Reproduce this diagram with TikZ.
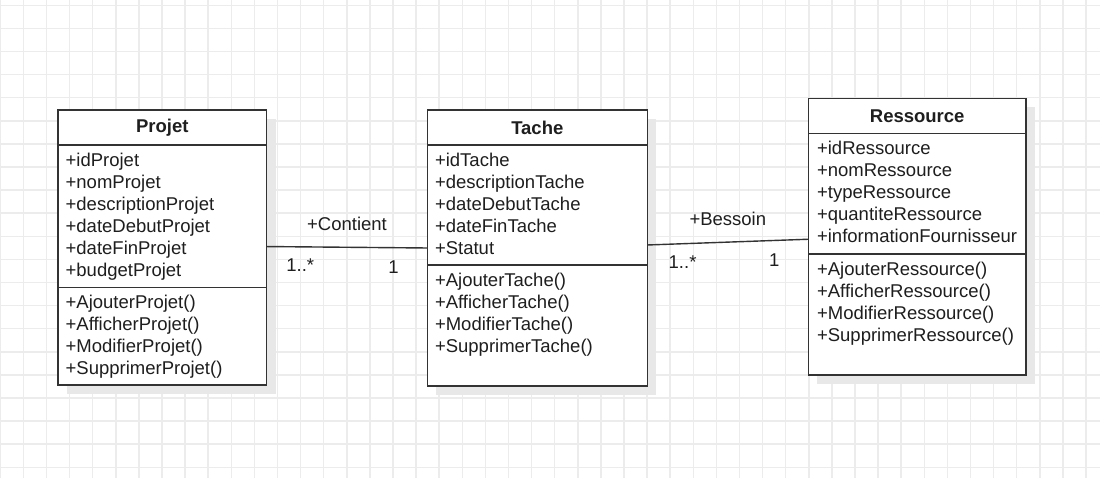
\documentclass[tikz,border=0pt]{standalone}
\usepackage{fontspec}
\setmainfont{Liberation Sans}
\usetikzlibrary{positioning,shadows}
\definecolor{gridgray}{RGB}{236,236,236}
\definecolor{shadowgray}{RGB}{232,232,232}
\definecolor{linegray}{RGB}{51,51,51}
\definecolor{textgray}{RGB}{30,30,30}
\newcommand{\umlfont}{\fontsize{18.5}{22}\selectfont}

\begin{document}
\begin{tikzpicture}[x=1pt,y=1pt,
    classbox/.style={draw=linegray,line width=1.4pt,fill=white,outer sep=0pt,inner sep=0pt,
      drop shadow={shadow xshift=9pt,shadow yshift=-9pt,fill=shadowgray,opacity=1}},
    classhead/.style={classbox,minimum height=35pt,font=\umlfont\bfseries,text=textgray},
    members/.style={inner sep=0pt,align=left,font=\umlfont,text=textgray},
    assoc/.style={draw=linegray,line width=1.4pt},
    mult/.style={inner sep=0pt,font=\umlfont,text=textgray}]

  \useasboundingbox (0,0) rectangle (1100,478);
  \fill[white] (0,0) rectangle (1100,478);
  \foreach \k in {0,...,47}
    \draw[gridgray,line width=1.5pt] (0.3+23.1*\k,0) -- (0.3+23.1*\k,478);
  \foreach \k in {0,...,20}
    \draw[gridgray,line width=1.5pt] (0,472.7-23.1*\k) -- (1100,472.7-23.1*\k);

  % Projet
  \node[classhead,minimum width=208.7pt] (projet) at (162.3,350.5) {Projet};
  \node[classbox,minimum width=208.7pt,minimum height=142.7pt,below=0pt of projet] (projet-attr) {};
  \node[classbox,minimum width=208.7pt,minimum height=97.3pt,below=0pt of projet-attr] (projet-ops) {};
  \node[members,below right=7.5pt and 7.5pt of projet-attr.north west] (projet-attrs) {+idProjet\\+nomProjet\\+descriptionProjet\\+dateDebutProjet\\+dateFinProjet\\+budgetProjet};
  \node[members,below right=7.5pt and 7.5pt of projet-ops.north west] (projet-meths) {+AjouterProjet()\\+AfficherProjet()\\+ModifierProjet()\\+SupprimerProjet()};

  % Tache
  \node[classhead,minimum width=220pt] (tache) at (537.3,350.5) {Tache};
  \node[classbox,minimum width=220pt,minimum height=120pt,below=0pt of tache] (tache-attr) {};
  \node[classbox,minimum width=220pt,minimum height=121pt,below=0pt of tache-attr] (tache-ops) {};
  \node[members,below right=7.5pt and 7.5pt of tache-attr.north west] (tache-attrs) {+idTache\\+descriptionTache\\+dateDebutTache\\+dateFinTache\\+Statut};
  \node[members,below right=7.5pt and 7.5pt of tache-ops.north west] (tache-meths) {+AjouterTache()\\+AfficherTache()\\+ModifierTache()\\+SupprimerTache()};

  % Ressource
  \node[classhead,minimum width=217.7pt] (ressource) at (917.2,362.2) {Ressource};
  \node[classbox,minimum width=217.7pt,minimum height=120.7pt,below=0pt of ressource] (ressource-attr) {};
  \node[classbox,minimum width=217.7pt,minimum height=121pt,below=0pt of ressource-attr] (ressource-ops) {};
  \node[members,below right=7.5pt and 8.5pt of ressource-attr.north west] (ressource-attrs) {+idRessource\\+nomRessource\\+typeRessource\\+quantiteRessource\\+informationFournisseur};
  \node[members,below right=7.5pt and 8.5pt of ressource-ops.north west] (ressource-meths) {+AjouterRessource()\\+AfficherRessource()\\+ModifierRessource()\\+SupprimerRessource()};

  \draw[assoc] ([yshift=-30.2pt]projet-attr.east)
    -- node[mult,above=16pt] {+Contient}
       node[mult,at start,below right=12pt and 19pt] {1..*}
       node[mult,at end,below left=12pt and 28pt] {1}
    ([yshift=-43pt]tache-attr.west);
  \draw[assoc] ([yshift=-40pt]tache-attr.east)
    -- node[mult,above=15.5pt] {+Bessoin}
       node[mult,at start,below right=10pt and 20.7pt] {1..*}
       node[mult,at end,below left=13.4pt and 28.3pt] {1}
    ([yshift=-45.6pt]ressource-attr.west);
\end{tikzpicture}
\end{document}
